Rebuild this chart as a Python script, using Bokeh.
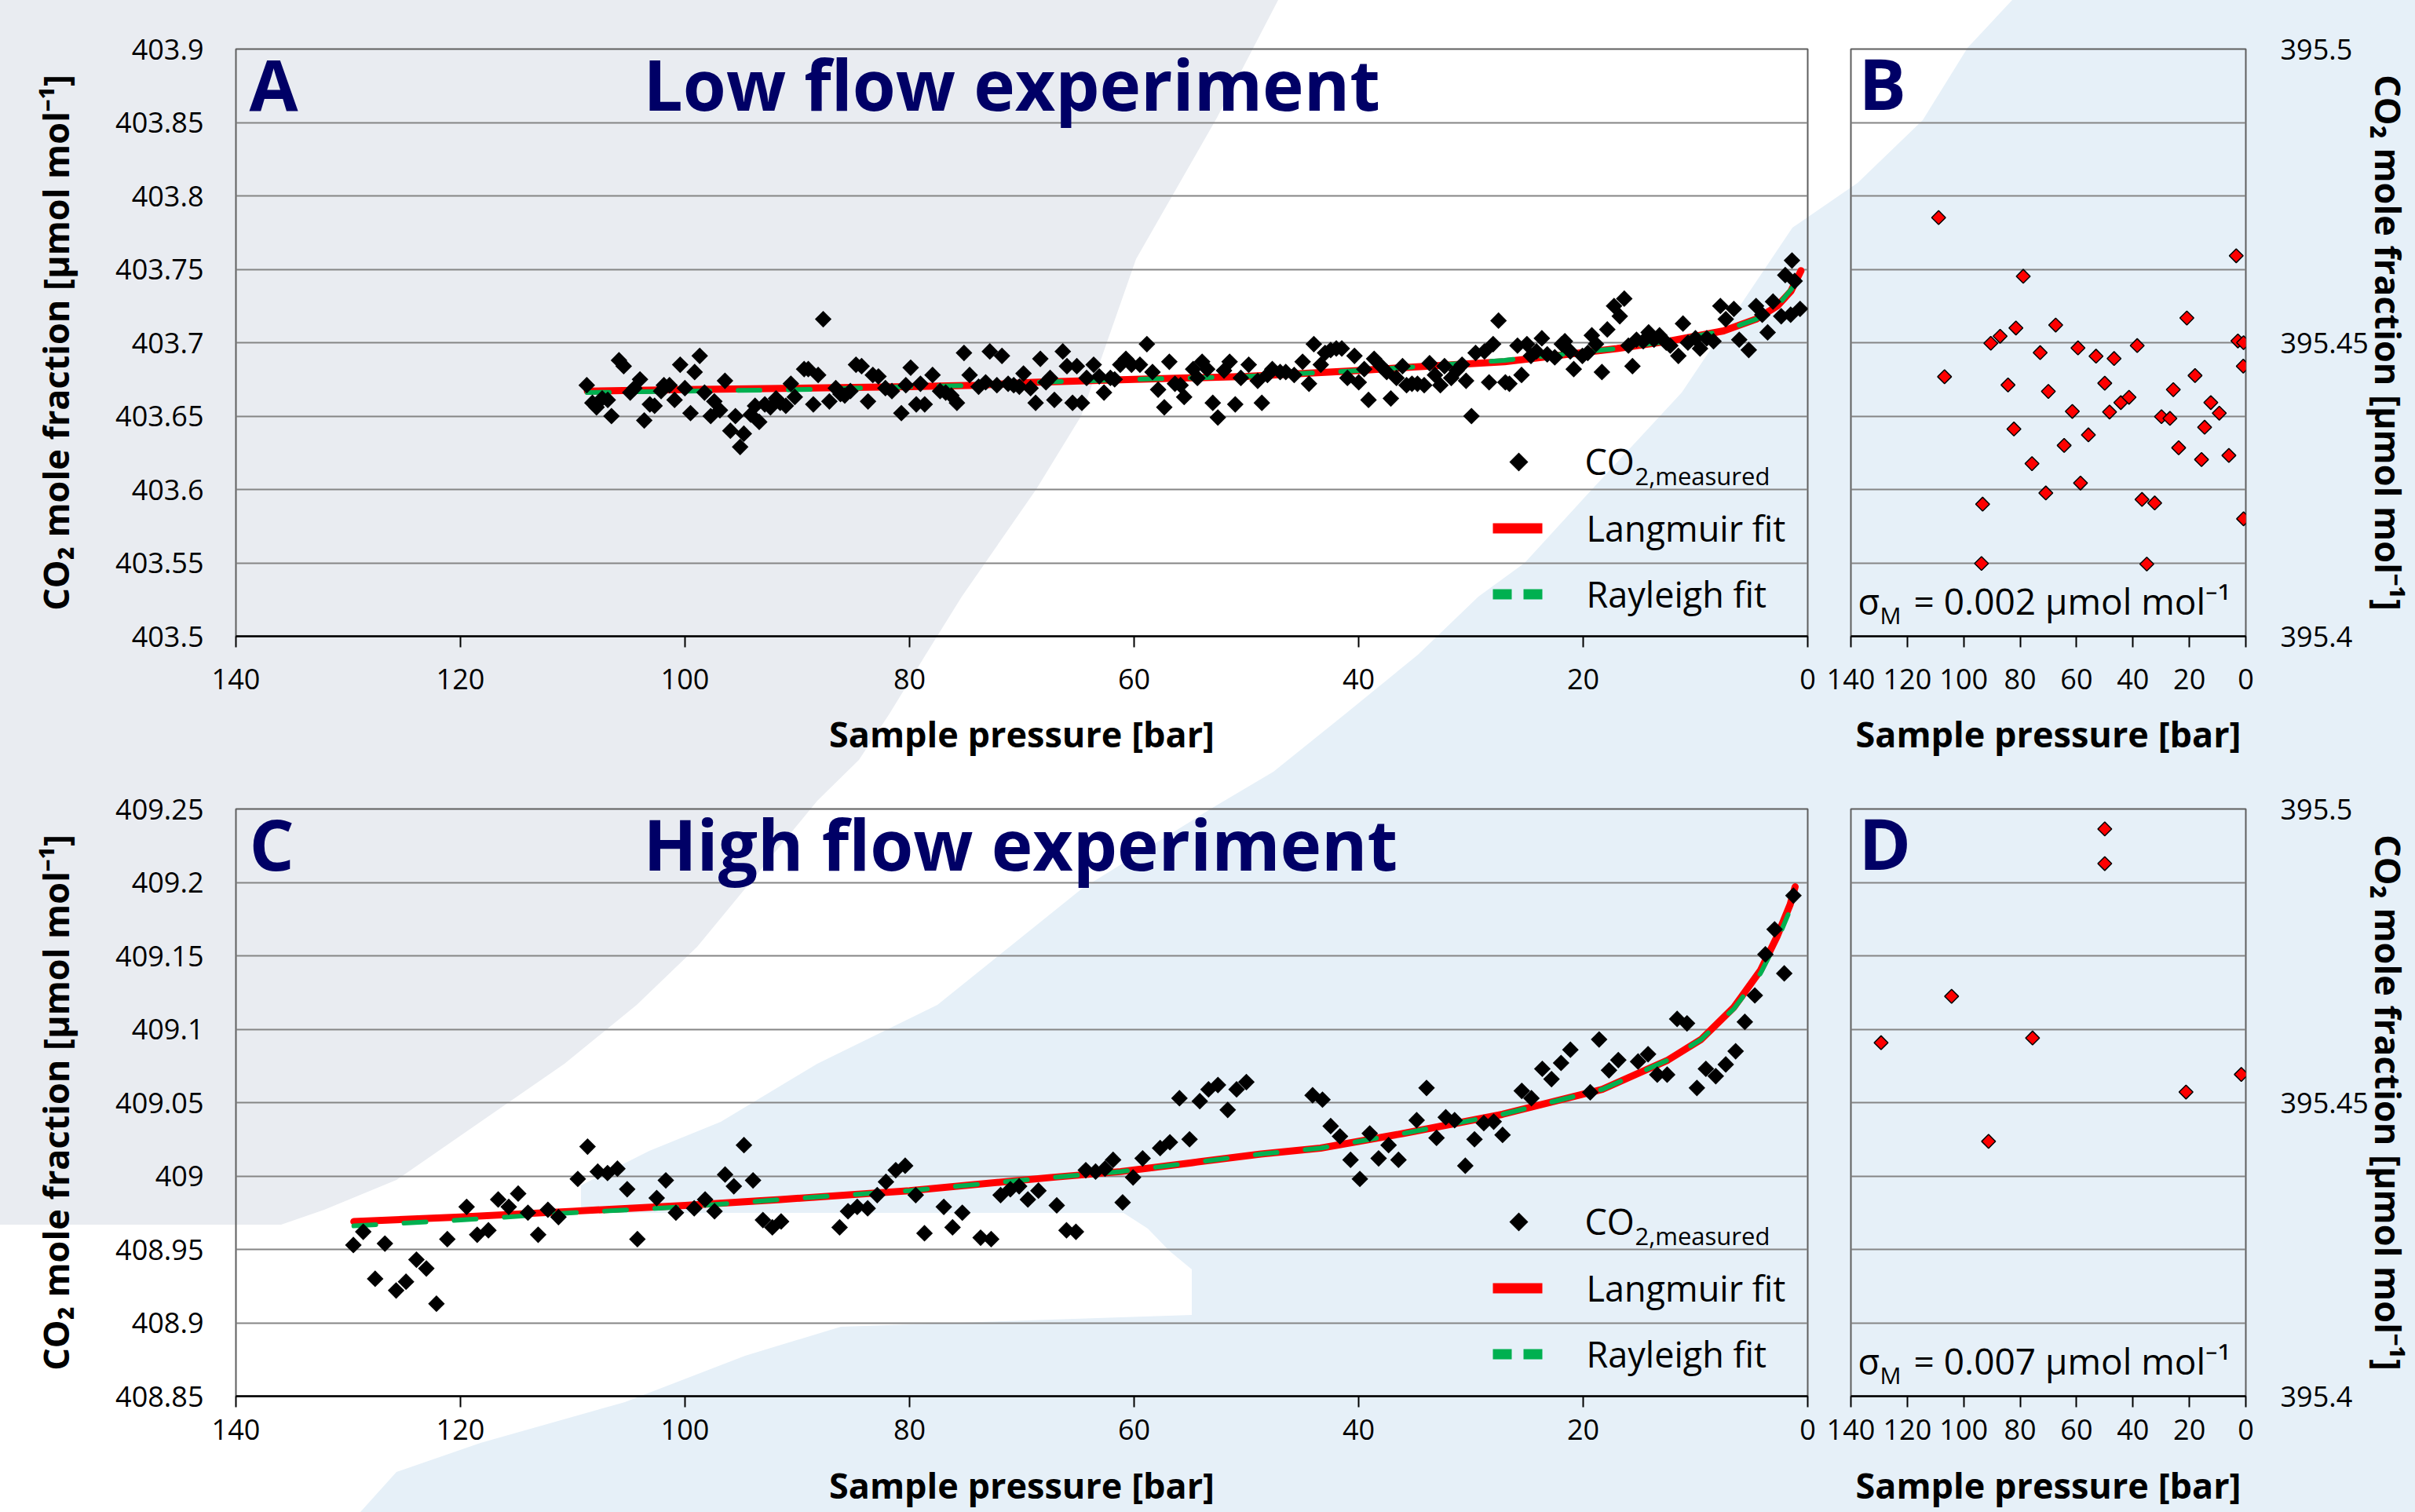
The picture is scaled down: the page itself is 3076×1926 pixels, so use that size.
import math
from urllib.parse import quote
from bokeh.plotting import figure
from bokeh.layouts import row, column
from bokeh.models import Range1d, FixedTicker, Label, BoxAnnotation, PolyAnnotation
from bokeh.embed import file_html
from bokeh.resources import INLINE

# ---------------- data ----------------
x_ticks = [0, 20, 40, 60, 80, 100, 120, 140]

a_y_ticks = [403.5, 403.55, 403.6, 403.65, 403.7, 403.75, 403.8, 403.85, 403.9]
a_y_labels = ["403.5", "403.55", "403.6", "403.65", "403.7", "403.75", "403.8", "403.85", "403.9"]
c_y_ticks = [408.85, 408.9, 408.95, 409.0, 409.05, 409.1, 409.15, 409.2, 409.25]
c_y_labels = ["408.85", "408.9", "408.95", "409", "409.05", "409.1", "409.15", "409.2", "409.25"]
bd_y_ticks = [395.4, 395.4125, 395.425, 395.4375, 395.45, 395.4625, 395.475, 395.4875, 395.5]
bd_y_labels = ["395.4", "", "", "", "395.45", "", "", "", "395.5"]

# Panel A: low flow, measured CO2 vs sample pressure
a_pressure = [
    108.75, 108.25, 107.88, 107.38, 106.88, 106.55, 105.88, 105.46, 104.88, 104.51,
    104.01, 103.63, 103.13, 102.71, 102.13, 101.88, 101.38, 100.93, 100.43, 100.01,
    99.51, 99.14, 98.69, 98.26, 97.71, 97.39, 96.89, 96.44, 95.96, 95.51,
    95.09, 94.76, 94.14, 93.76, 93.39, 92.89, 92.39, 91.89, 91.52, 91.02,
    90.57, 90.22, 89.39, 89.02, 88.57, 88.14, 87.69, 87.14, 86.57, 86.15,
    85.77, 85.27, 84.77, 84.27, 83.70, 83.27, 82.77, 82.15, 81.57, 80.73,
    80.33, 79.90, 79.40, 79.03, 78.65, 77.95, 77.28, 76.78, 76.28, 75.78,
    75.15, 74.65,
    73.85, 73.22, 72.85, 72.22, 71.77, 71.22, 70.72, 70.22, 69.85, 69.22,
    68.77, 68.35, 67.85, 67.48, 67.10, 66.35, 65.98, 65.48, 65.10, 64.65,
    64.23, 63.60, 63.10, 62.68, 62.11, 61.73, 61.23, 60.73, 60.23, 59.48,
    58.86, 58.36, 57.86, 57.31, 56.86, 56.36, 55.86, 55.54, 54.74, 54.36,
    53.94, 53.49, 52.99, 52.54, 51.99, 51.49, 50.99, 50.49, 49.79, 48.99,
    48.62, 48.12, 47.69, 46.99, 46.49, 45.74, 44.99, 44.42, 43.99, 43.37,
    42.99, 42.49, 41.99, 41.50, 41.00, 40.37, 39.99, 39.50, 39.12, 38.62,
    38.00, 37.50, 37.13, 36.63,
    36.09, 35.73, 35.25, 34.76, 34.16, 33.68, 33.20, 32.72, 32.35, 31.75,
    31.27, 30.79, 30.43, 29.95, 29.58, 28.79, 28.38, 28.02, 27.54, 26.93,
    26.57, 25.85, 25.49, 25.01, 24.65, 24.16, 23.68, 23.20, 22.53, 21.90,
    21.63, 21.15, 20.84, 20.07, 19.59, 19.23, 18.86, 18.33, 17.85, 17.25,
    16.74, 16.34, 15.97, 15.61, 15.25, 14.65, 14.17, 13.69, 13.20, 12.60,
    12.24, 11.52, 11.11, 10.67, 10.00, 9.59, 8.99, 8.39, 7.78, 7.30,
    6.58, 6.10, 5.25, 4.60, 4.05, 3.57, 3.09, 2.36, 2.00, 1.52,
    1.40, 1.16, 0.68,
]
a_co2 = [
    403.671, 403.659, 403.656, 403.662, 403.661, 403.650, 403.688, 403.684, 403.666, 403.669,
    403.675, 403.647, 403.658, 403.657, 403.667, 403.671, 403.671, 403.661, 403.685, 403.669,
    403.652, 403.680, 403.691, 403.666, 403.650, 403.660, 403.654, 403.674, 403.640, 403.650,
    403.629, 403.638, 403.651, 403.657, 403.646, 403.658, 403.656, 403.662, 403.659, 403.657,
    403.672, 403.663, 403.682, 403.682, 403.658, 403.678, 403.716, 403.660, 403.669, 403.665,
    403.664, 403.667, 403.685, 403.684, 403.660, 403.678, 403.677, 403.669, 403.667, 403.652,
    403.671, 403.683, 403.658, 403.672, 403.658, 403.678, 403.667, 403.666, 403.664, 403.659,
    403.693, 403.678,
    403.670, 403.673, 403.694, 403.671, 403.691, 403.672, 403.671, 403.670, 403.679, 403.669,
    403.659, 403.689, 403.673, 403.676, 403.661, 403.694, 403.684, 403.659, 403.684, 403.659,
    403.676, 403.685, 403.677, 403.666, 403.676, 403.675, 403.685, 403.689, 403.685, 403.685,
    403.699, 403.680, 403.668, 403.656, 403.687, 403.672, 403.671, 403.663, 403.682, 403.676,
    403.687, 403.682, 403.659, 403.649, 403.681, 403.687, 403.658, 403.676, 403.685, 403.674,
    403.659, 403.678, 403.682, 403.680, 403.680, 403.678, 403.687, 403.672, 403.699, 403.685,
    403.693, 403.695, 403.696, 403.696, 403.676, 403.691, 403.673, 403.682, 403.661, 403.689,
    403.684, 403.680, 403.662, 403.676,
    403.684, 403.671, 403.672, 403.672, 403.671, 403.686, 403.678, 403.671, 403.684, 403.676,
    403.681, 403.685, 403.674, 403.650, 403.693, 403.694, 403.673, 403.699, 403.715, 403.673,
    403.672, 403.698, 403.678, 403.699, 403.691, 403.694, 403.703, 403.692, 403.690, 403.699,
    403.701, 403.694, 403.682, 403.691, 403.693, 403.705, 403.699, 403.680, 403.709, 403.725,
    403.718, 403.730, 403.698, 403.684, 403.702, 403.701, 403.707, 403.702, 403.705, 403.700,
    403.698, 403.691, 403.713, 403.700, 403.703, 403.696, 403.703, 403.701, 403.725, 403.716,
    403.723, 403.702, 403.695, 403.725, 403.719, 403.707, 403.728, 403.718, 403.746, 403.719,
    403.756, 403.742, 403.723,
]
a_fit_pressure = [108.7, 100, 90, 80, 74, 69, 60, 50, 40, 36, 27, 17, 12.4, 7.5, 4.6, 2.7, 1.5, 0.6]
a_langmuir = [403.667, 403.668, 403.669, 403.670, 403.671, 403.673, 403.675, 403.677, 403.681,
              403.683, 403.687, 403.696, 403.701, 403.708, 403.716, 403.725, 403.735, 403.749]
a_rayleigh = [403.666, 403.667, 403.668, 403.670, 403.671, 403.673, 403.675, 403.677, 403.681,
              403.683, 403.688, 403.696, 403.701, 403.708, 403.716, 403.725, 403.736, 403.746]

# Panel B: low flow, reference measurements
b_pressure = [108.9, 106.8, 78.9, 3.4, 90.4, 87.1, 81.5, 67.4, 20.9, 72.9,
              59.5, 53.1, 46.7, 38.5, 2.8, 0.8, 0.9, 84.3, 70.0, 50.0,
              18.0, 25.7, 44.3, 41.4, 61.5, 48.3, 29.9, 26.9, 12.4, 9.4,
              82.2, 55.8, 14.6, 64.4, 23.8, 75.8, 15.7, 6.0, 58.6, 70.9,
              93.3, 36.8, 32.3, 0.8, 93.7, 35.1]
b_co2 = [395.4713, 395.4442, 395.4613, 395.4648, 395.4499, 395.4511, 395.4525, 395.4530, 395.4542, 395.4483,
         395.4491, 395.4477, 395.4473, 395.4495, 395.4503, 395.4500, 395.4460, 395.4428, 395.4417, 395.4431,
         395.4444, 395.4420, 395.4398, 395.4407, 395.4383, 395.4382, 395.4374, 395.4371, 395.4398, 395.4380,
         395.4353, 395.4343, 395.4356, 395.4325, 395.4321, 395.4294, 395.4301, 395.4308, 395.4261, 395.4244,
         395.4225, 395.4233, 395.4227, 395.4200, 395.4124, 395.4123]

# Panel C: high flow, measured CO2 vs sample pressure
c_pressure = [
    129.54, 128.66, 127.60, 126.73, 125.73, 124.85, 123.92, 123.04, 122.14, 121.17,
    119.45, 118.51, 117.51, 116.64, 115.70, 114.86, 113.99, 113.08, 112.21, 111.27,
    109.55, 108.68, 107.77, 106.90, 106.02, 105.15, 104.24, 102.52, 101.71, 100.81,
    99.18, 98.21, 97.37, 96.43, 95.65, 94.75, 93.94, 93.06, 92.22, 91.44,
    86.23, 85.48, 84.66, 83.73, 82.88, 82.10, 81.23, 80.39, 79.45, 78.67,
    76.95, 76.17, 75.30, 73.67, 72.73, 71.89, 71.02, 70.24, 69.46, 68.52,
    66.89, 66.02, 65.18, 64.30, 63.43, 62.59, 61.87, 61.02, 60.09, 59.24,
    57.68, 56.81, 55.96, 55.06, 54.15, 53.37, 52.53, 51.66, 50.87, 50.00,
    44.10, 43.22, 42.49, 41.66, 40.72, 39.89, 39.01, 38.22, 37.33, 36.45,
    34.83, 33.95, 33.06, 32.24, 31.45, 30.50, 29.68, 28.85, 27.97, 27.18,
    25.47, 24.61, 23.64, 22.82, 21.97, 21.14, 19.37, 18.58, 17.70, 16.87,
    15.11, 14.22, 13.40, 12.52, 11.63, 10.75, 9.87, 9.07, 8.19, 7.30,
    6.42, 5.60, 4.71, 3.77, 2.95, 2.09, 1.27,
]
c_co2 = [
    408.953, 408.962, 408.930, 408.954, 408.922, 408.928, 408.943, 408.937, 408.913, 408.957,
    408.979, 408.960, 408.963, 408.984, 408.979, 408.988, 408.975, 408.960, 408.977, 408.972,
    408.998, 409.020, 409.003, 409.002, 409.005, 408.991, 408.957, 408.985, 408.997, 408.975,
    408.978, 408.984, 408.976, 409.001, 408.993, 409.021, 408.997, 408.970, 408.965, 408.969,
    408.965, 408.976, 408.979, 408.978, 408.987, 408.996, 409.004, 409.007, 408.987, 408.961,
    408.979, 408.965, 408.975, 408.958, 408.957, 408.987, 408.991, 408.993, 408.984, 408.990,
    408.980, 408.963, 408.962, 409.004, 409.003, 409.005, 409.011, 408.982, 408.999, 409.012,
    409.019, 409.023, 409.053, 409.025, 409.051, 409.059, 409.062, 409.045, 409.059, 409.064,
    409.055, 409.052, 409.034, 409.027, 409.011, 408.998, 409.029, 409.012, 409.021, 409.011,
    409.038, 409.060, 409.026, 409.040, 409.038, 409.007, 409.025, 409.036, 409.037, 409.028,
    409.058, 409.053, 409.073, 409.066, 409.077, 409.086, 409.057, 409.093, 409.072, 409.079,
    409.078, 409.083, 409.069, 409.069, 409.107, 409.104, 409.060, 409.073, 409.068, 409.076,
    409.085, 409.105, 409.123, 409.151, 409.168, 409.138, 409.191,
]
c_fit_pressure = [129.5, 120, 110, 100, 91.5, 80, 67.4, 61.2, 54.9, 48.7, 43.4, 36.0, 27.2,
                  18.3, 12.45, 9.5, 6.57, 4.21, 2.74, 1.56, 1.12]
c_langmuir = [408.969, 408.972, 408.976, 408.980, 408.984, 408.990, 408.999, 409.003, 409.009,
              409.015, 409.019, 409.029, 409.042, 409.059, 409.079, 409.093, 409.115, 409.140,
              409.163, 409.185, 409.197]
c_rayleigh_pressure = [129.5, 120, 110, 100, 91.5, 80, 67.4, 61.2, 54.9, 48.7, 43.4, 36.0, 27.2,
                       18.3, 12.45, 9.5, 6.57, 4.21, 2.74, 1.75]
c_rayleigh = [408.966, 408.970, 408.975, 408.979, 408.984, 408.990, 408.999, 409.003, 409.009,
              409.015, 409.019, 409.029, 409.042, 409.059, 409.079, 409.093, 409.114, 409.138,
              409.160, 409.178]

# Panel D: high flow, reference measurements
d_pressure = [50.0, 50.0, 104.3, 129.3, 75.6, 1.6, 21.2, 91.2]
d_co2 = [395.4966, 395.4907, 395.4681, 395.4602, 395.4610, 395.4548, 395.4518, 395.4434]

# ---------------- styling ----------------
FONT = "Open Sans"
NAVY = "#000066"
RED = "#ff0000"
GREEN = "#00b050"
Y_TITLE = "CO\u2082 mole fraction [\u00b5mol mol\u207b\u00b9]"
X_TITLE = "Sample pressure [bar]"
K_BASE = 0.37  # baseline correction for Label text (fraction of font size)

# page background (decoration only): gray / white / light blue regions
BG_W, BG_H = 3076, 1926
white_poly = [(0, 0), (2563, 0), (2506, 61), (2449, 153), (2366, 233), (2283, 290), (2142, 500),
              (2028, 623), (1942, 717), (1883, 760), (1806, 834), (1714, 909), (1622, 983),
              (1546, 1028), (1378, 1132), (1286, 1206), (1194, 1280), (1041, 1355), (918, 1429),
              (827, 1466), (740, 1510), (740, 1545), (1431, 1545), (1462, 1565), (1489, 1593),
              (1518, 1617), (1518, 1675), (1071, 1690), (949, 1727), (796, 1786), (612, 1838),
              (505, 1875), (459, 1926), (0, 1926)]
gray_poly = [(0, 0), (1628, 0), (1550, 150), (1447, 330), (1377, 530), (1320, 623), (1225, 760),
             (1179, 834), (1133, 909), (1094, 968), (1041, 1020), (949, 1132), (888, 1206),
             (811, 1280), (719, 1355), (612, 1429), (505, 1503), (413, 1541), (358, 1560),
             (0, 1560)]


def pts(poly):
    return " ".join(f"{x},{y}" for x, y in poly)


svg = (f"<svg xmlns='http://www.w3.org/2000/svg' width='{BG_W}' height='{BG_H}'>"
       f"<rect width='{BG_W}' height='{BG_H}' fill='#e6f0f8'/>"
       f"<polygon points='{pts(white_poly)}' fill='#ffffff'/>"
       f"<polygon points='{pts(gray_poly)}' fill='#e9ecf1'/></svg>")
CSS = ("html { background: #e6f0f8 url(\"data:image/svg+xml," + quote(svg, safe="") +
       "\") no-repeat 0 0 / 3076px 1926px; } body { background: transparent; overflow: hidden; }")


def make_fig(w, h, yr, ticks, labels, right, bl, br, bt, bb, lab_standoff, title_standoff,
             x_lab_standoff, x_title_standoff):
    p = figure(width=w, height=h, x_range=Range1d(140, 0), y_range=Range1d(*yr),
               output_backend="svg", toolbar_location=None, tools="",
               y_axis_location="right" if right else "left",
               min_border_left=bl, min_border_right=br, min_border_top=bt, min_border_bottom=bb)
    p.background_fill_alpha = 0
    p.border_fill_alpha = 0
    p.outline_line_color = "#5f5f5f"
    p.outline_line_width = 2
    p.xgrid.visible = False
    yt = FixedTicker(ticks=ticks)
    ya = p.yaxis[0]
    ya.ticker = yt
    p.ygrid.ticker = yt
    p.ygrid.grid_line_color = "#858585"
    p.ygrid.grid_line_width = 2
    ya.major_label_overrides = {t: s for t, s in zip(ticks, labels)}
    ya.axis_line_color = None
    ya.major_tick_line_color = None
    ya.minor_tick_line_color = None
    ya.major_tick_out = 0
    ya.major_tick_in = 0
    ya.major_label_standoff = lab_standoff
    ya.major_label_text_font = FONT
    ya.major_label_text_font_size = "36px"
    ya.major_label_text_color = "black"
    ya.axis_label = Y_TITLE
    ya.axis_label_text_font = FONT
    ya.axis_label_text_font_size = "45px"
    ya.axis_label_text_font_style = "bold"
    ya.axis_label_text_color = "black"
    ya.axis_label_standoff = title_standoff

    xa = p.xaxis[0]
    xa.ticker = FixedTicker(ticks=x_ticks)
    xa.axis_line_color = "black"
    xa.axis_line_width = 2.5
    xa.major_tick_line_color = "black"
    xa.major_tick_line_width = 2
    xa.major_tick_out = 14
    xa.major_tick_in = 0
    xa.minor_tick_line_color = None
    xa.major_label_standoff = x_lab_standoff
    xa.major_label_text_font = FONT
    xa.major_label_text_font_size = "36px"
    xa.major_label_text_color = "black"
    xa.axis_label = X_TITLE
    xa.axis_label_text_font = FONT
    xa.axis_label_text_font_size = "45px"
    xa.axis_label_text_font_style = "bold"
    xa.axis_label_text_color = "black"
    xa.axis_label_standoff = x_title_standoff
    return p


def label(p, x, baseline, text, size, bold=False, color="black"):
    # baseline: desired baseline height (px) above the frame bottom
    p.add_layout(Label(x=x, y=baseline + K_BASE * size, x_units="screen", y_units="screen",
                       text=text, text_font=FONT, text_font_size=f"{size}px",
                       text_font_style="bold" if bold else "normal", text_color=color,
                       text_baseline="alphabetic", text_align="left"))


def box(p, l, r, b, t, color):
    p.add_layout(BoxAnnotation(left=l, right=r, bottom=b, top=t, left_units="screen",
                               right_units="screen", bottom_units="screen", top_units="screen",
                               fill_color=color, fill_alpha=1, line_color=None))


def main_panel(p, px, py, lp, lang, rp, ray, letter, title):
    p.line(x=lp, y=lang, line_color=RED, line_width=9, line_cap="round", line_join="round")
    p.line(x=rp, y=ray, line_color=GREEN, line_width=6, line_dash="28 36", line_cap="round",
           line_join="round")
    p.scatter(x=px, y=py, marker="square", size=15, angle=math.pi / 4,
              fill_color="black", line_color=None)
    label(p, 17, 671, letter, 90, bold=True, color=NAVY)
    label(p, 519, 671, title, 89, bold=True, color=NAVY)
    # legend
    p.add_layout(PolyAnnotation(xs=[1622, 1634, 1646, 1634], ys=[222, 234, 222, 210],
                                xs_units="screen", ys_units="screen",
                                fill_color="black", fill_alpha=1, line_color=None))
    label(p, 1718, 206, "CO", 45)
    label(p, 1782, 193, "2,measured", 31)
    box(p, 1601, 1664, 131, 144, RED)
    label(p, 1720, 121, "Langmuir fit", 45)
    box(p, 1601, 1625, 47, 60, GREEN)
    box(p, 1640, 1664, 47, 60, GREEN)
    label(p, 1720, 37, "Rayleigh fit", 45)


def ref_panel(p, px, py, letter, sigma):
    p.scatter(x=px, y=py, marker="square", size=12.5, angle=math.pi / 4,
              fill_color=RED, line_color="black", line_width=1.5)
    label(p, 10, 672, letter, 90, bold=True, color=NAVY)
    label(p, 9, 28, "\u03c3", 45)
    label(p, 37, 16, "M", 30)
    label(p, 80, 28, "= " + sigma + " \u00b5mol mol\u207b\u00b9", 46)


pA = make_fig(2322, 991, (403.5, 403.9), a_y_ticks, a_y_labels, False, 300, 20, 62, 181, 41, 43, 27, 23)
pB = make_fig(753, 991, (395.4, 395.5), bd_y_ticks, bd_y_labels, True, 35, 214, 62, 181, 44, -8, 27, 23)
pC = make_fig(2322, 934, (408.85, 409.25), c_y_ticks, c_y_labels, False, 300, 20, 39, 147, 41, 43, 15, 24)
pD = make_fig(753, 934, (395.4, 395.5), bd_y_ticks, bd_y_labels, True, 35, 214, 39, 147, 44, -8, 15, 24)

main_panel(pA, a_pressure, a_co2, a_fit_pressure, a_langmuir, a_fit_pressure, a_rayleigh,
           "A", "Low flow experiment")
main_panel(pC, c_pressure, c_co2, c_fit_pressure, c_langmuir, c_rayleigh_pressure, c_rayleigh,
           "C", "High flow experiment")
ref_panel(pB, b_pressure, b_co2, "B", "0.002")
ref_panel(pD, d_pressure, d_co2, "D", "0.007")

layout = column(row(pA, pB), row(pC, pD))

html_extra = None
try:
    from bokeh.models import GlobalInlineStyleSheet
    layout.stylesheets = [GlobalInlineStyleSheet(css=CSS)]
except Exception:
    html_extra = "<style>" + CSS + "</style>"

page = file_html(layout, INLINE, title="CO2 mole fraction")
if html_extra:
    page = page.replace("</head>", html_extra + "</head>")
open("out.html", "w").write(page)
